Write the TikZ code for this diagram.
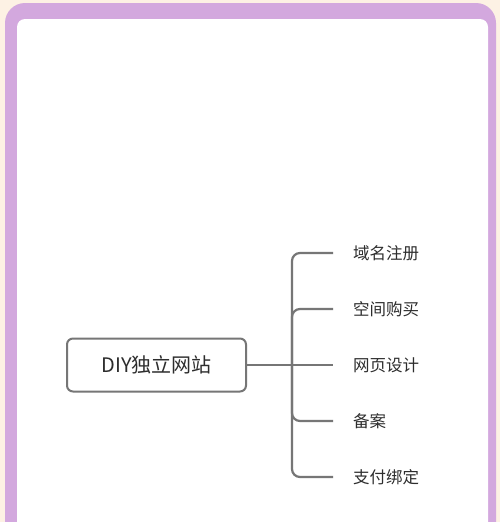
\documentclass[tikz,border=0pt]{standalone}
\usepackage{fontspec}
\setmainfont{Noto Sans CJK SC}
\usepackage{xcolor}
\usetikzlibrary{
    positioning
}
\definecolor{paper}{RGB}{253,241,228}
\definecolor{frame}{RGB}{211,168,222}
\definecolor{ink}{RGB}{45,45,45}
\definecolor{stroke}{RGB}{118,118,118}
\tikzset{%
    root topic/.style={%
        rectangle,
        draw=stroke,
        line width=2pt,
        rounded corners=6pt,
        inner sep = 0pt,
        outer sep = 0pt,
        minimum width=179pt,
        minimum height=53pt,
        text=ink,
        font=\fontsize{20}{24}\selectfont
    },
    subtopic/.style={%
        rectangle,
        inner xsep = 20pt,
        inner ysep = 0pt,
        outer sep = 0pt,
        anchor=west,
        text=ink,
        font=\fontsize{16.5}{20}\selectfont
    },
    branch/.style={%
        draw=stroke,
        line width=2.2pt,
        rounded corners=8pt,
    },
}
\begin{document}
\begin{tikzpicture}[x=1pt, y=-1pt]
    \useasboundingbox (0,0) rectangle (500,522);
    \clip (0,0) rectangle (500,522);
    \fill[paper] (0,0) rectangle (500,522);
    \fill[frame, rounded corners=20pt] (5,3) rectangle (496,560);
    \fill[white, rounded corners=8pt] (17,19) rectangle (488,560);

    \node[subtopic] (domain) at (333,253) {域名注册};
    \node[subtopic, below=56pt of domain.west, anchor=west] (hosting) {空间购买};
    \node[subtopic, below=56pt of hosting.west, anchor=west] (design) {网页设计};
    \node[subtopic, below=56pt of design.west, anchor=west] (filing) {备案};
    \node[subtopic, below=56pt of filing.west, anchor=west] (payment) {支付绑定};

    \node[root topic, left=87pt of design.west, anchor=east] (site) {DIY独立网站};
    \coordinate[left=41pt of design.west] (trunk);

    \draw[branch] (site.east) -- (design.west);
    \draw[branch] (trunk) |- (domain.west);
    \draw[branch] (trunk) |- (hosting.west);
    \draw[branch] (trunk) |- (filing.west);
    \draw[branch] (trunk) |- (payment.west);
\end{tikzpicture}
\end{document}
